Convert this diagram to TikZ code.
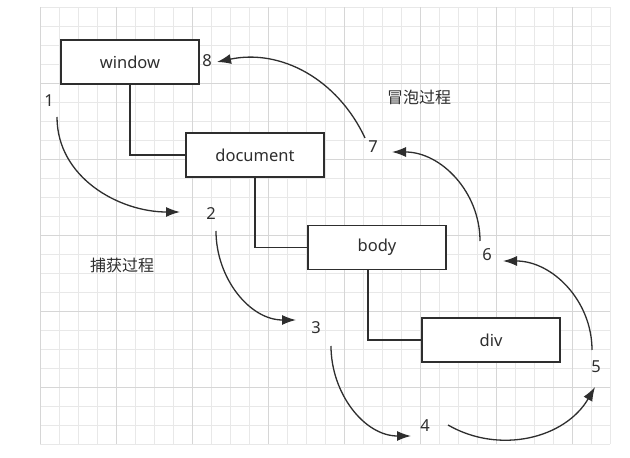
\documentclass[tikz,border=0pt]{standalone}
\usepackage{fontspec}
\setmainfont{Noto Sans}
\newfontfamily\cjk{Noto Sans CJK SC}
\usepackage{tikz}
\usetikzlibrary{arrows.meta}
\definecolor{ink}{HTML}{2E2E2E}
\definecolor{gridminor}{HTML}{E8E8E8}
\definecolor{gridmajor}{HTML}{D6D6D6}

\begin{document}
\begin{tikzpicture}[x=1pt, y=1pt,
  box/.style={draw=ink, line width=1.5pt, fill=white, minimum height=44pt, minimum width=138pt, inner sep=0pt, font=\fontsize{16.5}{19}\selectfont, text=ink},
  num/.style={inner sep=1pt, font=\fontsize{16.5}{19}\selectfont, text=ink},
  link/.style={draw=ink, line width=1.5pt},
  arr/.style={ink, line width=1.3pt, -{Latex[length=14pt, width=10pt]}},
  title/.style={font=\cjk\fontsize{16}{19}\selectfont, text=ink}
]
\useasboundingbox (0,0) rectangle (630,458);
\fill[white] (0,0) rectangle (630,458);

% grid
\foreach \i in {0,...,30} {
  \pgfmathsetmacro{\gx}{40+19*\i}
  \draw[gridminor, line width=0.8pt] (\gx,14) -- (\gx,451);
}
\foreach \j in {0,...,23} {
  \pgfmathsetmacro{\gy}{14+19*\j}
  \draw[gridminor, line width=0.8pt] (40,\gy) -- (610,\gy);
}
\foreach \gx in {40,116,192,268,344,420,496,572}
  \draw[gridmajor, line width=0.9pt] (\gx,14) -- (\gx,451);
\foreach \gy in {71,147,223,299,375}
  \draw[gridmajor, line width=0.9pt] (40,\gy) -- (610,\gy);

% tree
\node[box] (win) at (130,396) {window};
\node[box] (doc) at (255,303) {document};
\node[box] (bod) at (377,210.5) {body};
\node[box] (dv) at (491,118) {div};

\draw[link] (win.south) |- (doc.west);
\draw[link] (doc.south) |- (bod.west);
\draw[link] ([xshift=-9pt]bod.south) |- (dv.west);

% steps
\node[num] (n1) at (49,357) {1};
\node[num] (n2) at (211,244) {2};
\node[num] (n3) at (316,130) {3};
\node[num] (n4) at (425,32) {4};
\node[num] (n5) at (596,91) {5};
\node[num] (n6) at (487,203) {6};
\node[num] (n7) at (373,311) {7};
\node[num] (n8) at (207,397) {8};

\node[title] (cap) at (122,193) {捕获过程};
\node[title] (bub) at (419,361) {冒泡过程};

\draw[arr] ([shift={(8,-16)}]n1.center) to[out=-90, in=180] ([shift={(-31,2)}]n2.center);
\draw[arr] ([shift={(5,-17)}]n2.center) to[out=-90, in=180] ([shift={(-20,8)}]n3.center);
\draw[arr] ([shift={(15,-18)}]n3.center) to[out=-90, in=180] ([shift={(-14,-10)}]n4.center);
\draw[arr] ([shift={(23,1)}]n4.center) to[out=-30, in=-120] ([shift={(-1,-20)}]n5.center);
\draw[arr] ([shift={(-4,17)}]n5.center) to[out=90, in=0] ([shift={(16,-6)}]n6.center);
\draw[arr] ([shift={(-7,14)}]n6.center) to[out=90, in=0] ([shift={(19,-5)}]n7.center);
\draw[arr] ([shift={(-8,9)}]n7.center) to[out=115, in=12] ([shift={(10,-1)}]n8.center);
\end{tikzpicture}
\end{document}
